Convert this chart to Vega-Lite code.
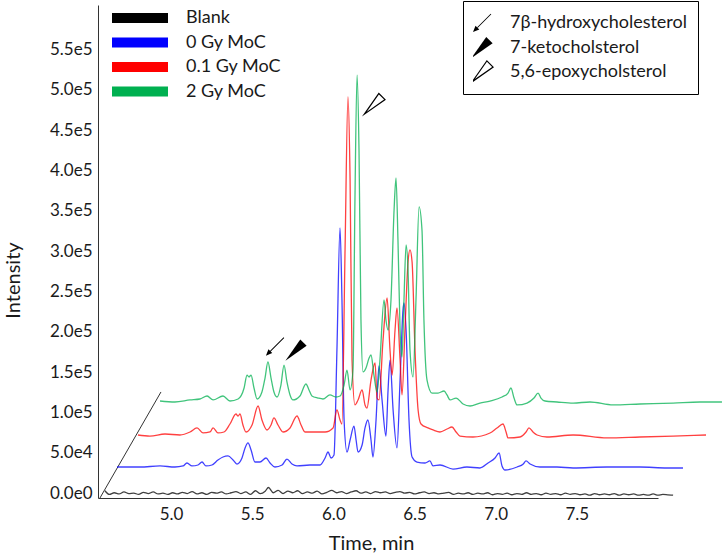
{
"$schema":"https://vega.github.io/schema/vega-lite/v6.json",
"width":560,"height":493,
"autosize":{"type":"none"},
"padding":{"left":98,"top":5,"right":64,"bottom":61},
"background":"white",
"config":{"view":{"stroke":null},"font":"Lato",
 "axis":{"grid":false,"ticks":false,"tickSize":0,"domainColor":"#333333","domainWidth":1,"labelColor":"#1a1a1a","titleColor":"#1a1a1a","labelFontWeight":"normal","titleFontWeight":"normal","labelFontSize":17,"titleFontSize":20}},
"datasets":{
"diag":[{"t":4.562,"v":-6000,"t2":4.938,"v2":125400}],
"annots":[{"c":"7β-hydroxycholesterol","t":5.640,"v":181600},{"c":"7-ketocholsterol","t":5.770,"v":177400},{"c":"5,6-epoxycholsterol","t":6.250,"v":481600}],
"traces":[
{"s":"Blank","t":4.593,"v":3000},{"s":"Blank","t":4.62,"v":-1500},{"s":"Blank","t":4.65,"v":500},{"s":"Blank","t":4.68,"v":-1000},{"s":"Blank","t":4.71,"v":1500},{"s":"Blank","t":4.74,"v":-500},{"s":"Blank","t":4.77,"v":0},{"s":"Blank","t":4.80,"v":-1500},{"s":"Blank","t":4.83,"v":1000},{"s":"Blank","t":4.86,"v":-500},{"s":"Blank","t":4.89,"v":1500},{"s":"Blank","t":4.92,"v":-1000},{"s":"Blank","t":4.95,"v":0},{"s":"Blank","t":4.98,"v":-1500},{"s":"Blank","t":5.01,"v":500},{"s":"Blank","t":5.04,"v":-1000},{"s":"Blank","t":5.07,"v":1000},{"s":"Blank","t":5.10,"v":-500},{"s":"Blank","t":5.13,"v":2000},{"s":"Blank","t":5.16,"v":-1000},{"s":"Blank","t":5.19,"v":500},{"s":"Blank","t":5.22,"v":-1500},{"s":"Blank","t":5.25,"v":1000},{"s":"Blank","t":5.28,"v":0},{"s":"Blank","t":5.31,"v":1500},{"s":"Blank","t":5.34,"v":-1000},{"s":"Blank","t":5.37,"v":500},{"s":"Blank","t":5.40,"v":2000},{"s":"Blank","t":5.43,"v":-500},{"s":"Blank","t":5.46,"v":1500},{"s":"Blank","t":5.49,"v":-1500},{"s":"Blank","t":5.52,"v":3000},{"s":"Blank","t":5.55,"v":-500},{"s":"Blank","t":5.58,"v":2500},{"s":"Blank","t":5.60,"v":7000},{"s":"Blank","t":5.63,"v":500},{"s":"Blank","t":5.66,"v":3500},{"s":"Blank","t":5.69,"v":-500},{"s":"Blank","t":5.72,"v":2500},{"s":"Blank","t":5.75,"v":500},{"s":"Blank","t":5.78,"v":3000},{"s":"Blank","t":5.81,"v":-500},{"s":"Blank","t":5.84,"v":1500},{"s":"Blank","t":5.87,"v":0},{"s":"Blank","t":5.90,"v":2500},{"s":"Blank","t":5.93,"v":-1000},{"s":"Blank","t":5.96,"v":1000},{"s":"Blank","t":5.99,"v":3500},{"s":"Blank","t":6.02,"v":500},{"s":"Blank","t":6.05,"v":2000},{"s":"Blank","t":6.08,"v":-500},{"s":"Blank","t":6.11,"v":1500},{"s":"Blank","t":6.14,"v":3000},{"s":"Blank","t":6.17,"v":0},{"s":"Blank","t":6.20,"v":1500},{"s":"Blank","t":6.23,"v":-500},{"s":"Blank","t":6.26,"v":2000},{"s":"Blank","t":6.29,"v":500},{"s":"Blank","t":6.32,"v":1500},{"s":"Blank","t":6.35,"v":-500},{"s":"Blank","t":6.38,"v":1000},{"s":"Blank","t":6.41,"v":2000},{"s":"Blank","t":6.44,"v":0},{"s":"Blank","t":6.47,"v":1000},{"s":"Blank","t":6.50,"v":-1000},{"s":"Blank","t":6.53,"v":500},{"s":"Blank","t":6.56,"v":1500},{"s":"Blank","t":6.59,"v":-500},{"s":"Blank","t":6.62,"v":500},{"s":"Blank","t":6.65,"v":-1000},{"s":"Blank","t":6.68,"v":0},{"s":"Blank","t":6.71,"v":1000},{"s":"Blank","t":6.74,"v":-1500},{"s":"Blank","t":6.77,"v":0},{"s":"Blank","t":6.80,"v":-1000},{"s":"Blank","t":6.83,"v":500},{"s":"Blank","t":6.86,"v":-1500},{"s":"Blank","t":6.89,"v":0},{"s":"Blank","t":6.92,"v":-1000},{"s":"Blank","t":6.95,"v":500},{"s":"Blank","t":6.98,"v":-2000},{"s":"Blank","t":7.01,"v":-500},{"s":"Blank","t":7.04,"v":-1500},{"s":"Blank","t":7.07,"v":0},{"s":"Blank","t":7.10,"v":-2000},{"s":"Blank","t":7.13,"v":-500},{"s":"Blank","t":7.16,"v":-1500},{"s":"Blank","t":7.19,"v":500},{"s":"Blank","t":7.22,"v":-1500},{"s":"Blank","t":7.25,"v":-500},{"s":"Blank","t":7.28,"v":-2000},{"s":"Blank","t":7.31,"v":0},{"s":"Blank","t":7.34,"v":-1500},{"s":"Blank","t":7.37,"v":-500},{"s":"Blank","t":7.40,"v":-2000},{"s":"Blank","t":7.43,"v":0},{"s":"Blank","t":7.46,"v":-1500},{"s":"Blank","t":7.49,"v":-500},{"s":"Blank","t":7.52,"v":-2000},{"s":"Blank","t":7.55,"v":-1000},{"s":"Blank","t":7.58,"v":-2500},{"s":"Blank","t":7.61,"v":-500},{"s":"Blank","t":7.64,"v":-2000},{"s":"Blank","t":7.67,"v":-1000},{"s":"Blank","t":7.70,"v":-2000},{"s":"Blank","t":7.73,"v":-500},{"s":"Blank","t":7.76,"v":-2500},{"s":"Blank","t":7.79,"v":-1000},{"s":"Blank","t":7.82,"v":-2000},{"s":"Blank","t":7.85,"v":-1000},{"s":"Blank","t":7.88,"v":-2500},{"s":"Blank","t":7.91,"v":-1500},{"s":"Blank","t":7.94,"v":-2500},{"s":"Blank","t":7.97,"v":-1000},{"s":"Blank","t":8.00,"v":-2500},{"s":"Blank","t":8.03,"v":-1500},{"s":"Blank","t":8.06,"v":-2000},{"s":"Blank","t":8.093,"v":-2500},
{"s":"0 Gy MoC","t":4.667,"v":32400},{"s":"0 Gy MoC","t":4.809,"v":32400},{"s":"0 Gy MoC","t":4.932,"v":33700},{"s":"0 Gy MoC","t":5.024,"v":32400},{"s":"0 Gy MoC","t":5.074,"v":33700},{"s":"0 Gy MoC","t":5.098,"v":37400},{"s":"0 Gy MoC","t":5.129,"v":33700},{"s":"0 Gy MoC","t":5.166,"v":34900},{"s":"0 Gy MoC","t":5.191,"v":38600},{"s":"0 Gy MoC","t":5.215,"v":33700},{"s":"0 Gy MoC","t":5.252,"v":34900},{"s":"0 Gy MoC","t":5.289,"v":41100},{"s":"0 Gy MoC","t":5.320,"v":44800},{"s":"0 Gy MoC","t":5.351,"v":46100},{"s":"0 Gy MoC","t":5.382,"v":41100},{"s":"0 Gy MoC","t":5.406,"v":36100},{"s":"0 Gy MoC","t":5.437,"v":43600},{"s":"0 Gy MoC","t":5.456,"v":56000},{"s":"0 Gy MoC","t":5.474,"v":62200},{"s":"0 Gy MoC","t":5.493,"v":53500},{"s":"0 Gy MoC","t":5.517,"v":38600},{"s":"0 Gy MoC","t":5.548,"v":38600},{"s":"0 Gy MoC","t":5.585,"v":43600},{"s":"0 Gy MoC","t":5.610,"v":37400},{"s":"0 Gy MoC","t":5.640,"v":32400},{"s":"0 Gy MoC","t":5.684,"v":34900},{"s":"0 Gy MoC","t":5.714,"v":42300},{"s":"0 Gy MoC","t":5.745,"v":36100},{"s":"0 Gy MoC","t":5.776,"v":33700},{"s":"0 Gy MoC","t":5.856,"v":34900},{"s":"0 Gy MoC","t":5.918,"v":34900},{"s":"0 Gy MoC","t":5.949,"v":43600},{"s":"0 Gy MoC","t":5.967,"v":51000},{"s":"0 Gy MoC","t":5.986,"v":43600},{"s":"0 Gy MoC","t":6.004,"v":47300},{"s":"0 Gy MoC","t":6.022,"v":177400},{"s":"0 Gy MoC","t":6.041,"v":328600},{"s":"0 Gy MoC","t":6.053,"v":239400},{"s":"0 Gy MoC","t":6.066,"v":90700},{"s":"0 Gy MoC","t":6.084,"v":51000},{"s":"0 Gy MoC","t":6.103,"v":65900},{"s":"0 Gy MoC","t":6.127,"v":83200},{"s":"0 Gy MoC","t":6.140,"v":65900},{"s":"0 Gy MoC","t":6.152,"v":51000},{"s":"0 Gy MoC","t":6.177,"v":59700},{"s":"0 Gy MoC","t":6.195,"v":80800},{"s":"0 Gy MoC","t":6.213,"v":90700},{"s":"0 Gy MoC","t":6.232,"v":65900},{"s":"0 Gy MoC","t":6.244,"v":44800},{"s":"0 Gy MoC","t":6.263,"v":90700},{"s":"0 Gy MoC","t":6.281,"v":157600},{"s":"0 Gy MoC","t":6.300,"v":115500},{"s":"0 Gy MoC","t":6.324,"v":70800},{"s":"0 Gy MoC","t":6.337,"v":127900},{"s":"0 Gy MoC","t":6.349,"v":165000},{"s":"0 Gy MoC","t":6.368,"v":103100},{"s":"0 Gy MoC","t":6.392,"v":56000},{"s":"0 Gy MoC","t":6.411,"v":140200},{"s":"0 Gy MoC","t":6.429,"v":227000},{"s":"0 Gy MoC","t":6.435,"v":235700},{"s":"0 Gy MoC","t":6.448,"v":202200},{"s":"0 Gy MoC","t":6.466,"v":90700},{"s":"0 Gy MoC","t":6.485,"v":44800},{"s":"0 Gy MoC","t":6.515,"v":38600},{"s":"0 Gy MoC","t":6.565,"v":37400},{"s":"0 Gy MoC","t":6.595,"v":39900},{"s":"0 Gy MoC","t":6.614,"v":33700},{"s":"0 Gy MoC","t":6.657,"v":34900},{"s":"0 Gy MoC","t":6.737,"v":29900},{"s":"0 Gy MoC","t":6.823,"v":32400},{"s":"0 Gy MoC","t":6.903,"v":31200},{"s":"0 Gy MoC","t":6.953,"v":37400},{"s":"0 Gy MoC","t":6.996,"v":43600},{"s":"0 Gy MoC","t":7.021,"v":49800},{"s":"0 Gy MoC","t":7.039,"v":33700},{"s":"0 Gy MoC","t":7.058,"v":28700},{"s":"0 Gy MoC","t":7.132,"v":32400},{"s":"0 Gy MoC","t":7.170,"v":36100},{"s":"0 Gy MoC","t":7.187,"v":39900},{"s":"0 Gy MoC","t":7.212,"v":36100},{"s":"0 Gy MoC","t":7.273,"v":32400},{"s":"0 Gy MoC","t":7.378,"v":32400},{"s":"0 Gy MoC","t":7.477,"v":31200},{"s":"0 Gy MoC","t":7.686,"v":32400},{"s":"0 Gy MoC","t":7.889,"v":32400},{"s":"0 Gy MoC","t":8.056,"v":31200},{"s":"0 Gy MoC","t":8.154,"v":31200},
{"s":"0.1 Gy MoC","t":4.796,"v":72100},{"s":"0.1 Gy MoC","t":4.870,"v":70800},{"s":"0.1 Gy MoC","t":4.963,"v":73300},{"s":"0.1 Gy MoC","t":5.055,"v":72100},{"s":"0.1 Gy MoC","t":5.117,"v":75800},{"s":"0.1 Gy MoC","t":5.160,"v":80800},{"s":"0.1 Gy MoC","t":5.197,"v":74600},{"s":"0.1 Gy MoC","t":5.240,"v":75800},{"s":"0.1 Gy MoC","t":5.259,"v":80800},{"s":"0.1 Gy MoC","t":5.289,"v":74600},{"s":"0.1 Gy MoC","t":5.326,"v":75800},{"s":"0.1 Gy MoC","t":5.363,"v":85700},{"s":"0.1 Gy MoC","t":5.400,"v":98100},{"s":"0.1 Gy MoC","t":5.413,"v":95600},{"s":"0.1 Gy MoC","t":5.425,"v":98100},{"s":"0.1 Gy MoC","t":5.443,"v":84500},{"s":"0.1 Gy MoC","t":5.462,"v":75800},{"s":"0.1 Gy MoC","t":5.499,"v":84500},{"s":"0.1 Gy MoC","t":5.536,"v":108000},{"s":"0.1 Gy MoC","t":5.560,"v":90700},{"s":"0.1 Gy MoC","t":5.591,"v":78300},{"s":"0.1 Gy MoC","t":5.616,"v":84500},{"s":"0.1 Gy MoC","t":5.634,"v":93200},{"s":"0.1 Gy MoC","t":5.659,"v":84500},{"s":"0.1 Gy MoC","t":5.690,"v":75800},{"s":"0.1 Gy MoC","t":5.733,"v":80800},{"s":"0.1 Gy MoC","t":5.776,"v":95600},{"s":"0.1 Gy MoC","t":5.801,"v":84500},{"s":"0.1 Gy MoC","t":5.825,"v":75800},{"s":"0.1 Gy MoC","t":5.887,"v":75800},{"s":"0.1 Gy MoC","t":5.949,"v":75800},{"s":"0.1 Gy MoC","t":5.998,"v":80800},{"s":"0.1 Gy MoC","t":6.022,"v":103100},{"s":"0.1 Gy MoC","t":6.041,"v":90700},{"s":"0.1 Gy MoC","t":6.053,"v":85700},{"s":"0.1 Gy MoC","t":6.072,"v":301400},{"s":"0.1 Gy MoC","t":6.090,"v":491000},{"s":"0.1 Gy MoC","t":6.103,"v":388100},{"s":"0.1 Gy MoC","t":6.115,"v":165000},{"s":"0.1 Gy MoC","t":6.133,"v":109300},{"s":"0.1 Gy MoC","t":6.152,"v":115500},{"s":"0.1 Gy MoC","t":6.177,"v":127900},{"s":"0.1 Gy MoC","t":6.195,"v":109300},{"s":"0.1 Gy MoC","t":6.207,"v":105500},{"s":"0.1 Gy MoC","t":6.232,"v":140200},{"s":"0.1 Gy MoC","t":6.257,"v":161300},{"s":"0.1 Gy MoC","t":6.269,"v":117900},{"s":"0.1 Gy MoC","t":6.281,"v":115500},{"s":"0.1 Gy MoC","t":6.306,"v":189800},{"s":"0.1 Gy MoC","t":6.331,"v":241900},{"s":"0.1 Gy MoC","t":6.349,"v":177400},{"s":"0.1 Gy MoC","t":6.362,"v":146400},{"s":"0.1 Gy MoC","t":6.380,"v":202200},{"s":"0.1 Gy MoC","t":6.392,"v":229500},{"s":"0.1 Gy MoC","t":6.411,"v":165000},{"s":"0.1 Gy MoC","t":6.423,"v":121700},{"s":"0.1 Gy MoC","t":6.441,"v":202200},{"s":"0.1 Gy MoC","t":6.460,"v":286500},{"s":"0.1 Gy MoC","t":6.472,"v":301400},{"s":"0.1 Gy MoC","t":6.485,"v":286500},{"s":"0.1 Gy MoC","t":6.503,"v":177400},{"s":"0.1 Gy MoC","t":6.522,"v":103100},{"s":"0.1 Gy MoC","t":6.540,"v":85700},{"s":"0.1 Gy MoC","t":6.583,"v":80800},{"s":"0.1 Gy MoC","t":6.614,"v":78300},{"s":"0.1 Gy MoC","t":6.657,"v":75800},{"s":"0.1 Gy MoC","t":6.700,"v":79500},{"s":"0.1 Gy MoC","t":6.731,"v":82000},{"s":"0.1 Gy MoC","t":6.756,"v":75800},{"s":"0.1 Gy MoC","t":6.780,"v":70800},{"s":"0.1 Gy MoC","t":6.860,"v":69600},{"s":"0.1 Gy MoC","t":6.965,"v":74600},{"s":"0.1 Gy MoC","t":7.008,"v":80800},{"s":"0.1 Gy MoC","t":7.045,"v":85700},{"s":"0.1 Gy MoC","t":7.064,"v":75800},{"s":"0.1 Gy MoC","t":7.076,"v":68400},{"s":"0.1 Gy MoC","t":7.150,"v":69600},{"s":"0.1 Gy MoC","t":7.187,"v":75800},{"s":"0.1 Gy MoC","t":7.205,"v":80800},{"s":"0.1 Gy MoC","t":7.230,"v":75800},{"s":"0.1 Gy MoC","t":7.255,"v":72100},{"s":"0.1 Gy MoC","t":7.316,"v":69600},{"s":"0.1 Gy MoC","t":7.477,"v":72100},{"s":"0.1 Gy MoC","t":7.686,"v":68400},{"s":"0.1 Gy MoC","t":7.889,"v":69600},{"s":"0.1 Gy MoC","t":8.093,"v":70800},{"s":"0.1 Gy MoC","t":8.296,"v":72100},
{"s":"2 Gy MoC","t":4.932,"v":114200},{"s":"2 Gy MoC","t":5.024,"v":113000},{"s":"2 Gy MoC","t":5.117,"v":115500},{"s":"2 Gy MoC","t":5.178,"v":116700},{"s":"2 Gy MoC","t":5.222,"v":120400},{"s":"2 Gy MoC","t":5.259,"v":115500},{"s":"2 Gy MoC","t":5.320,"v":120400},{"s":"2 Gy MoC","t":5.363,"v":114200},{"s":"2 Gy MoC","t":5.413,"v":116700},{"s":"2 Gy MoC","t":5.450,"v":130300},{"s":"2 Gy MoC","t":5.468,"v":146400},{"s":"2 Gy MoC","t":5.480,"v":144000},{"s":"2 Gy MoC","t":5.493,"v":146400},{"s":"2 Gy MoC","t":5.511,"v":130300},{"s":"2 Gy MoC","t":5.530,"v":116700},{"s":"2 Gy MoC","t":5.560,"v":125400},{"s":"2 Gy MoC","t":5.579,"v":142700},{"s":"2 Gy MoC","t":5.597,"v":162600},{"s":"2 Gy MoC","t":5.616,"v":142700},{"s":"2 Gy MoC","t":5.634,"v":125400},{"s":"2 Gy MoC","t":5.653,"v":119200},{"s":"2 Gy MoC","t":5.677,"v":134000},{"s":"2 Gy MoC","t":5.696,"v":158800},{"s":"2 Gy MoC","t":5.714,"v":137800},{"s":"2 Gy MoC","t":5.733,"v":121700},{"s":"2 Gy MoC","t":5.751,"v":115500},{"s":"2 Gy MoC","t":5.794,"v":120400},{"s":"2 Gy MoC","t":5.831,"v":135300},{"s":"2 Gy MoC","t":5.850,"v":127900},{"s":"2 Gy MoC","t":5.868,"v":120400},{"s":"2 Gy MoC","t":5.905,"v":117900},{"s":"2 Gy MoC","t":5.936,"v":116700},{"s":"2 Gy MoC","t":5.979,"v":121700},{"s":"2 Gy MoC","t":6.016,"v":119200},{"s":"2 Gy MoC","t":6.041,"v":120400},{"s":"2 Gy MoC","t":6.066,"v":134000},{"s":"2 Gy MoC","t":6.084,"v":152600},{"s":"2 Gy MoC","t":6.103,"v":127900},{"s":"2 Gy MoC","t":6.121,"v":152600},{"s":"2 Gy MoC","t":6.133,"v":363300},{"s":"2 Gy MoC","t":6.146,"v":518200},{"s":"2 Gy MoC","t":6.158,"v":425300},{"s":"2 Gy MoC","t":6.170,"v":214600},{"s":"2 Gy MoC","t":6.183,"v":150200},{"s":"2 Gy MoC","t":6.201,"v":155100},{"s":"2 Gy MoC","t":6.220,"v":167500},{"s":"2 Gy MoC","t":6.232,"v":171200},{"s":"2 Gy MoC","t":6.250,"v":146400},{"s":"2 Gy MoC","t":6.269,"v":125400},{"s":"2 Gy MoC","t":6.287,"v":165000},{"s":"2 Gy MoC","t":6.312,"v":239400},{"s":"2 Gy MoC","t":6.324,"v":214600},{"s":"2 Gy MoC","t":6.337,"v":202200},{"s":"2 Gy MoC","t":6.355,"v":239400},{"s":"2 Gy MoC","t":6.374,"v":350900},{"s":"2 Gy MoC","t":6.386,"v":390600},{"s":"2 Gy MoC","t":6.398,"v":313800},{"s":"2 Gy MoC","t":6.411,"v":202200},{"s":"2 Gy MoC","t":6.423,"v":168700},{"s":"2 Gy MoC","t":6.435,"v":239400},{"s":"2 Gy MoC","t":6.448,"v":307600},{"s":"2 Gy MoC","t":6.460,"v":276600},{"s":"2 Gy MoC","t":6.472,"v":177400},{"s":"2 Gy MoC","t":6.491,"v":144000},{"s":"2 Gy MoC","t":6.509,"v":239400},{"s":"2 Gy MoC","t":6.528,"v":354700},{"s":"2 Gy MoC","t":6.546,"v":326100},{"s":"2 Gy MoC","t":6.558,"v":214600},{"s":"2 Gy MoC","t":6.577,"v":140200},{"s":"2 Gy MoC","t":6.608,"v":124100},{"s":"2 Gy MoC","t":6.645,"v":124100},{"s":"2 Gy MoC","t":6.682,"v":126600},{"s":"2 Gy MoC","t":6.700,"v":121700},{"s":"2 Gy MoC","t":6.719,"v":115500},{"s":"2 Gy MoC","t":6.756,"v":117900},{"s":"2 Gy MoC","t":6.799,"v":110500},{"s":"2 Gy MoC","t":6.842,"v":108000},{"s":"2 Gy MoC","t":6.903,"v":111700},{"s":"2 Gy MoC","t":6.965,"v":114200},{"s":"2 Gy MoC","t":7.039,"v":119200},{"s":"2 Gy MoC","t":7.076,"v":124100},{"s":"2 Gy MoC","t":7.094,"v":130300},{"s":"2 Gy MoC","t":7.113,"v":117900},{"s":"2 Gy MoC","t":7.132,"v":109300},{"s":"2 Gy MoC","t":7.193,"v":111700},{"s":"2 Gy MoC","t":7.236,"v":117900},{"s":"2 Gy MoC","t":7.261,"v":124100},{"s":"2 Gy MoC","t":7.279,"v":117900},{"s":"2 Gy MoC","t":7.304,"v":114200},{"s":"2 Gy MoC","t":7.378,"v":113000},{"s":"2 Gy MoC","t":7.477,"v":111700},{"s":"2 Gy MoC","t":7.581,"v":113000},{"s":"2 Gy MoC","t":7.723,"v":109300},{"s":"2 Gy MoC","t":7.889,"v":110500},{"s":"2 Gy MoC","t":8.093,"v":111700},{"s":"2 Gy MoC","t":8.259,"v":113000},{"s":"2 Gy MoC","t":8.394,"v":113000}
]},
"layer":[
{"data":{"name":"diag"},"mark":{"type":"rule","color":"#333333","strokeWidth":1},
 "encoding":{
  "x":{"field":"t","type":"quantitative","scale":{"domain":[4.55,8.0],"nice":false,"zero":false},"axis":{"title":"Time, min","values":[5,5.5,6,6.5,7,7.5],"format":".1f","labelPadding":8,"titleX":273,"titleY":35}},
  "y":{"field":"v","type":"quantitative","scale":{"domain":[-6000,605000],"nice":false,"zero":false},"axis":{"title":"Intensity","values":[0,50000,100000,150000,200000,250000,300000,350000,400000,450000,500000,550000],"format":".1e","labelExpr":"replace(datum.label,'+','')","labelPadding":6,"titleX":-75,"titleY":275}},
  "x2":{"field":"t2"},"y2":{"field":"v2"}}},
{"data":{"name":"traces"},"mark":{"type":"line","strokeWidth":1.3,"opacity":0.75,"interpolate":"monotone"},
 "encoding":{
  "x":{"field":"t","type":"quantitative","scale":{"domain":[4.55,8.0],"nice":false,"zero":false},"axis":{"title":"Time, min","values":[5,5.5,6,6.5,7,7.5],"format":".1f","labelPadding":8,"titleX":273,"titleY":35}},
  "y":{"field":"v","type":"quantitative","scale":{"domain":[-6000,605000],"nice":false,"zero":false},"axis":{"title":"Intensity","values":[0,50000,100000,150000,200000,250000,300000,350000,400000,450000,500000,550000],"format":".1e","labelExpr":"replace(datum.label,'+','')","labelPadding":6,"titleX":-75,"titleY":275}},
  "color":{"field":"s","type":"nominal","sort":null,"scale":{"domain":["Blank","0 Gy MoC","0.1 Gy MoC","2 Gy MoC"],"range":["#000000","#0000ff","#ff0000","#00b050"]},
   "legend":{"orient":"none","legendX":14,"legendY":1,"title":null,"padding":0,"symbolType":"stroke","symbolSize":3136,"symbolStrokeWidth":10,"symbolOpacity":1,"symbolOffset":-5,"labelFontSize":18,"labelColor":"#1a1a1a","labelOffset":13,"clipHeight":24,"rowPadding":0.5}}}},
{"data":{"name":"annots"},"mark":{"type":"point","filled":true,"color":"black","strokeWidth":0,"opacity":1,"fillOpacity":1},
 "encoding":{
  "x":{"field":"t","type":"quantitative","scale":{"domain":[4.55,8.0],"nice":false,"zero":false},"axis":{"title":"Time, min","values":[5,5.5,6,6.5,7,7.5],"format":".1f","labelPadding":8,"titleX":273,"titleY":35}},
  "y":{"field":"v","type":"quantitative","scale":{"domain":[-6000,605000],"nice":false,"zero":false},"axis":{"title":"Intensity","values":[0,50000,100000,150000,200000,250000,300000,350000,400000,450000,500000,550000],"format":".1e","labelExpr":"replace(datum.label,'+','')","labelPadding":6,"titleX":-75,"titleY":275}},
  "shape":{"field":"c","type":"nominal","scale":{"domain":["7β-hydroxycholesterol","7-ketocholsterol","5,6-epoxycholsterol"],"range":["M1.035,-0.965L-0.465,0.535L-0.535,0.465L0.965,-1.035ZM-1,1L-0.3,0.72L-0.72,0.3Z","M-1,1L1,-0.4L0.4,-1Z","M-1,1L1,-0.4L0.4,-1ZM-0.593,0.593L0.413,-0.845L0.845,-0.413Z"]},
   "legend":{"orient":"none","legendX":365,"legendY":-4,"title":null,"padding":10,"strokeColor":"black","labelFontSize":18,"labelColor":"#1a1a1a","labelOffset":16,"labelLimit":400,"symbolOffset":-3,"clipHeight":24,"rowPadding":0.5,"symbolFillColor":"black","symbolStrokeWidth":0}},
  "size":{"field":"c","type":"nominal","scale":{"domain":["7β-hydroxycholesterol","7-ketocholsterol","5,6-epoxycholsterol"],"range":[324,576,576]},
   "legend":{"orient":"none","legendX":365,"legendY":-4,"title":null,"padding":10,"strokeColor":"black","labelFontSize":18,"labelColor":"#1a1a1a","labelOffset":16,"labelLimit":400,"symbolOffset":-3,"clipHeight":24,"rowPadding":0.5,"symbolFillColor":"black","symbolStrokeWidth":0}}}}
]
}
